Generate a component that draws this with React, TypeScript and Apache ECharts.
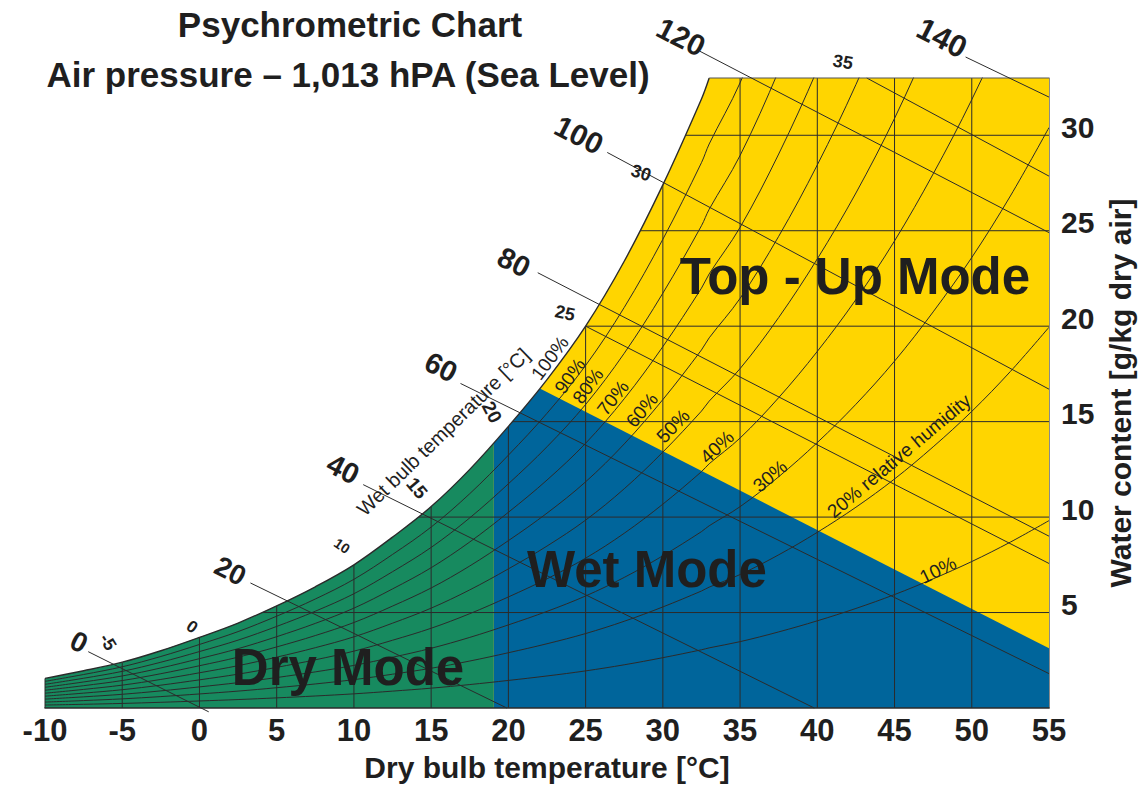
import React, { useEffect, useRef } from 'react';
import * as echarts from 'echarts';

// ---------- data ----------
const tempTicks = [-10, -5, 0, 5, 10, 15, 20, 25, 30, 35, 40, 45, 50, 55];
const waterTicks = [5, 10, 15, 20, 25, 30];
const waterTop = 33; // g/kg at the flat top edge of the chart

// saturation water content (100 % RH) against dry bulb temperature
const satTemps = [-10, -7.5, -5, -2.5, 0, 2.5, 5, 7.5, 10, 12.5, 15, 17.5, 20, 22.5, 25, 27.5, 30, 32.5, 33, 35, 37.5, 40, 42.5, 45, 47.5, 50, 52.5, 55];
const satWater = [1.55, 1.95, 2.4, 3.0, 3.7, 4.45, 5.35, 6.35, 7.5, 8.95, 10.55, 12.5, 14.75, 17.2, 20.0, 23.4, 27.4, 31.9, 33.0, 36.6, 42.3, 48.9, 56.4, 65.0, 75.0, 86.3, 99.4, 114.4];
const saturationEndTemp = 33;

const rhLevels = [10, 20, 30, 40, 50, 60, 70, 80, 90];

// mode regions
const dryModeLimit = 19.05;
const wetBoundary = [[19.05, 17.97], [55, 3.13]];

// enthalpy lines [kJ/kg]
const enthalpyValues = [0, 20, 40, 60, 80, 100, 120, 140];
const enthalpyStart = [[-7.2, 2.95], [3.3, 6.55], [10.6, 11.7], [16.9, 17.0], [21.9, 22.8], [26.4, 29.1], [32.4, 34.4], [49.6, 34.1]];
const enthalpyEnd = [[0.6, -0.2], [19.9, 0], [39.8, 0], [55, 1.8], [55, 9.0], [55, 16.7], [55, 24.9], [55, 32.0]];
const enthalpyLabelAt = [[-7.8, 3.46], [2.0, 7.18], [9.3, 12.52], [15.64, 17.86], [20.36, 23.36], [24.57, 30.02], [31.18, 35.15], [48.07, 35.1]];

// wet bulb temperature labels and lines
const wetBulbLabels = ['-5', '0', '10', '15', '20', '25', '30', '35'];
const wetBulbLabelAt = [[-5.92, 3.46], [-0.48, 4.24], [9.23, 8.49], [14.08, 11.52], [18.94, 15.5], [23.67, 20.69], [28.59, 28.03], [41.66, 33.84]];
const wetBulbLines = [[25, 20.0, 55, 7.57], [43.2, 33.0, 55, 27.86]];

// relative humidity labels
const rhLabelTexts = ['100%', '90%', '80%', '70%', '60%', '50%', '40%', '30%', '20% relative humidity', '10%'];
const rhLabelAt = [[22.69, 18.33], [23.99, 17.39], [25.15, 16.87], [26.77, 16.24], [28.65, 15.61], [30.66, 14.77], [33.51, 13.67], [36.94, 12.15], [45.29, 13.2], [47.81, 7.23]];

const wetBulbTitle = 'Wet bulb temperature [°C]';
const wetBulbTitleAt = [15.77, 14.46];

const modeNames = ['Dry Mode', 'Wet Mode', 'Top - Up Mode'];
const modeLabelAt = [[9.62, 2.1], [28.97, 7.23], [42.44, 22.58]];

// ---------- styles ----------
const FONT = "'Liberation Sans', Arial, Helvetica, sans-serif";
const YELLOW = '#FFD500';
const BLUE = '#00659B';
const GREEN = '#178A5F';
const LINE = '#2b2b2b';
const TEXT = '#1f1f1f';
const enthalpyLabelRotate = -27;
const enthalpyLabelSize = [28, 28, 29, 29, 29, 30, 30, 31];
const wetBulbLabelRotate = [-58, -35, -35, -50, -62, -12, -18, -10];
const wetBulbLabelSize = [18, 17, 14, 19, 19, 18, 18, 18];
const rhLabelRotate = [53, 54, 54, 52, 50, 46, 43, 40, 40, 26];

const rhWater = (rh: number, ws: number) => {
  const x = ws / (622 + ws);
  const px = (rh / 100) * x;
  return (622 * px) / (1 - px);
};

const segSeries = (id: string, data: number[][], color: string, width: number, z: number) => ({
  type: 'custom',
  id,
  z,
  silent: true,
  data,
  renderItem: (_p: any, api: any) => {
    const a = api.coord([api.value(0), api.value(1)]);
    const b = api.coord([api.value(2), api.value(3)]);
    return {
      type: 'line',
      shape: { x1: a[0], y1: a[1], x2: b[0], y2: b[1] },
      style: { stroke: color, lineWidth: width },
    };
  },
});

type LabelItem = { text: string; at: number[]; rotate: number; size: number; weight: string };
const labelSeries = (id: string, items: LabelItem[], z: number) => ({
  type: 'scatter',
  id,
  z,
  silent: true,
  clip: false,
  symbolSize: 1,
  itemStyle: { color: 'rgba(0,0,0,0)', opacity: 1 },
  data: items.map((it) => ({
    name: it.text,
    value: it.at,
    label: {
      show: true,
      position: 'inside',
      formatter: '{b}',
      rotate: it.rotate,
      fontSize: it.size,
      fontWeight: it.weight,
      fontFamily: FONT,
      color: TEXT,
      opacity: 1,
    },
  })),
});

function buildOption() {
  const satCurve = satTemps
    .map((t, i) => [t, satWater[i]])
    .filter((p) => p[0] <= saturationEndTemp);

  const gridSegs: number[][] = [[-10, 0, -10, satWater[0]]];
  tempTicks.filter((t) => t > -10 && t < 55).forEach((t) => gridSegs.push([t, 0, t, waterTop]));
  waterTicks.forEach((w) => gridSegs.push([-10, w, 55, w]));

  const enthalpySegs = enthalpyValues.map((_, i) => [
    enthalpyStart[i][0], enthalpyStart[i][1], enthalpyEnd[i][0], enthalpyEnd[i][1],
  ]);

  const rhSeries = rhLevels.map((rh) => ({
    type: 'line',
    id: 'rh' + rh,
    z: 2,
    silent: true,
    symbol: 'none',
    smooth: 0.35,
    data: satTemps.map((t, i) => [t, rhWater(rh, satWater[i])]),
    lineStyle: { color: LINE, width: 1 },
  }));

  const enthalpyLabels: LabelItem[] = enthalpyValues.map((v, i) => ({
    text: String(v), at: enthalpyLabelAt[i], rotate: enthalpyLabelRotate, size: enthalpyLabelSize[i], weight: 'bold',
  }));
  const wbLabels: LabelItem[] = wetBulbLabels.map((v, i) => ({
    text: v, at: wetBulbLabelAt[i], rotate: wetBulbLabelRotate[i], size: wetBulbLabelSize[i], weight: 'bold',
  }));
  const rhLabels: LabelItem[] = rhLabelTexts.map((v, i) => ({
    text: v, at: rhLabelAt[i], rotate: rhLabelRotate[i], size: 19, weight: 'normal',
  }));
  rhLabels.push({ text: wetBulbTitle, at: wetBulbTitleAt, rotate: 44, size: 20, weight: 'normal' });
  const modeLabels: LabelItem[] = modeNames.map((v, i) => ({
    text: v, at: modeLabelAt[i], rotate: 0, size: 51, weight: 'bold',
  }));

  return {
    animation: false,
    title: [
      {
        text: 'Psychrometric Chart', left: 350, top: 7, textAlign: 'center', padding: 0,
        textStyle: { fontFamily: FONT, fontWeight: 'bold', fontSize: 35, color: TEXT },
      },
      {
        text: 'Air pressure – 1,013 hPA (Sea Level)', left: 348, top: 57, textAlign: 'center', padding: 0,
        textStyle: { fontFamily: FONT, fontWeight: 'bold', fontSize: 35, color: TEXT },
      },
    ],
    grid: {
      left: 45, right: 90, top: 78, bottom: 77, show: true, backgroundColor: YELLOW, borderWidth: 0,
      containLabel: false, outerBoundsMode: 'none',
    },
    xAxis: {
      type: 'value', min: -10, max: 55, interval: 5, z: 6,
      name: 'Dry bulb temperature [°C]', nameLocation: 'middle', nameGap: 44,
      nameTextStyle: { fontFamily: FONT, fontWeight: 'bold', fontSize: 30, color: TEXT },
      axisLine: { show: true, onZero: false, lineStyle: { color: LINE, width: 1.5 } },
      axisTick: { show: false },
      splitLine: { show: false },
      axisLabel: {
        margin: 7, fontFamily: FONT, fontWeight: 'bold', fontSize: 31, color: TEXT,
        formatter: (v: number) => (tempTicks.includes(v) ? String(v) : ''),
      },
    },
    yAxis: {
      type: 'value', position: 'right', min: 0, max: waterTop, interval: 5, z: 6,
      name: 'Water content [g/kg dry air]', nameLocation: 'middle', nameRotate: 90, nameGap: 56,
      nameTextStyle: { fontFamily: FONT, fontWeight: 'bold', fontSize: 30, color: TEXT },
      axisLine: { show: true, onZero: false, lineStyle: { color: '#8a8a8a', width: 1 } },
      axisTick: { show: false },
      splitLine: { show: false },
      axisLabel: {
        margin: 12, verticalAlign: 'bottom', lineHeight: 16, fontFamily: FONT, fontWeight: 'bold', fontSize: 30, color: TEXT,
        formatter: (v: number) => (waterTicks.includes(v) ? String(v) : ''),
      },
    },
    series: [
      {
        type: 'line', id: 'dryArea', z: 1, silent: true, symbol: 'none',
        data: [[-10, waterTop], [dryModeLimit, waterTop]],
        lineStyle: { width: 0 },
        areaStyle: { color: GREEN, opacity: 1, origin: 'start' },
      },
      {
        type: 'line', id: 'wetArea', z: 1, silent: true, symbol: 'none',
        data: wetBoundary,
        lineStyle: { width: 0 },
        areaStyle: { color: BLUE, opacity: 1, origin: 'start' },
      },
      segSeries('grid', gridSegs, LINE, 1, 2),
      ...rhSeries,
      segSeries('wetBulb', wetBulbLines, LINE, 1, 2),
      {
        type: 'line', id: 'saturation', z: 3, silent: true, symbol: 'none', smooth: 0.35,
        data: satCurve,
        lineStyle: { color: LINE, width: 1.4 },
        areaStyle: { color: '#ffffff', opacity: 1, origin: 'end' },
      },
      {
        type: 'line', id: 'topEdge', z: 4, silent: true, symbol: 'none', clip: false,
        data: [[saturationEndTemp, waterTop], [55, waterTop]],
        lineStyle: { color: '#555555', width: 1.2 },
      },
      segSeries('enthalpy', enthalpySegs, LINE, 1, 5),
      labelSeries('enthalpyLabels', enthalpyLabels, 10),
      labelSeries('wetBulbLabels', wbLabels, 10),
      labelSeries('rhLabels', rhLabels, 10),
      labelSeries('modeLabels', modeLabels, 11),
    ],
  };
}

export default function App() {
  const ref = useRef<HTMLDivElement>(null);
  useEffect(() => {
    const chart = echarts.init(ref.current as HTMLDivElement, null, { renderer: 'svg' });
    chart.setOption(buildOption() as any);
    return () => chart.dispose();
  }, []);
  return (
    <div
      ref={ref}
      style={{ position: 'fixed', left: 0, top: 0, width: 1139, height: 785, background: '#ffffff' }}
    />
  );
}
